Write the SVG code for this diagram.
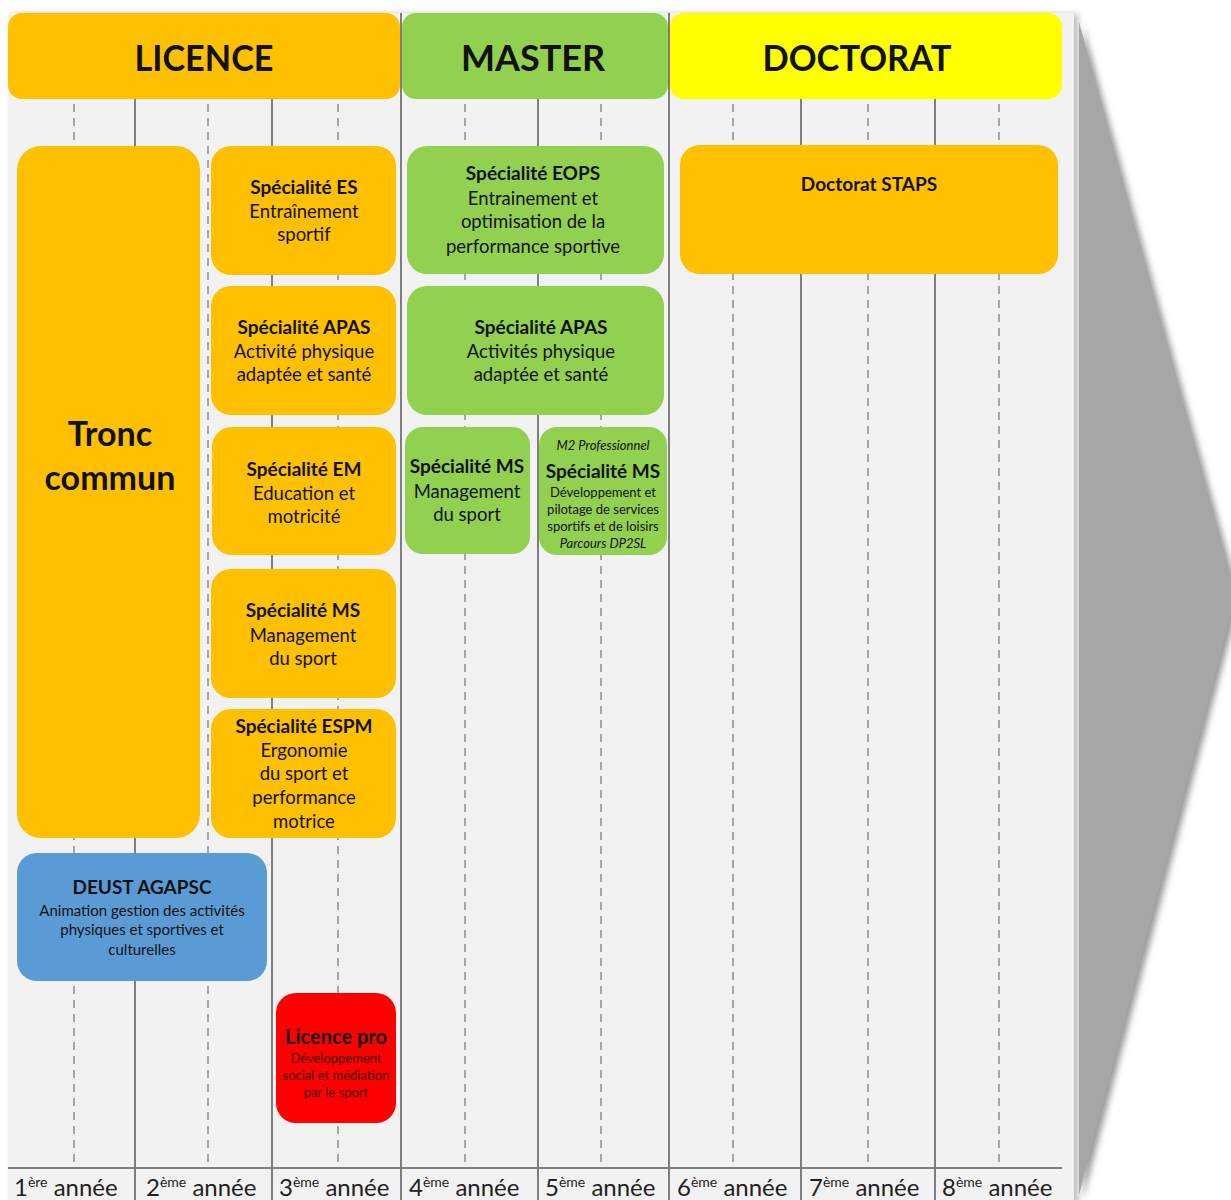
<svg xmlns="http://www.w3.org/2000/svg" width="1231" height="1200" viewBox="0 0 1231 1200">
<defs>
<style>
text{font-family:Lato,"Open Sans","Liberation Sans",sans-serif;fill:#111;text-anchor:middle}
.hd{font-size:36px;font-weight:700}
.t{font-size:19px;font-weight:700}
.s{font-size:18.5px}
.xs{font-size:13px}
.it{font-style:italic}
.yr{font-size:24px;text-anchor:start;fill:#222}
.sup{font-size:14px}
.orange{fill:#FFC000}
.green{fill:#92D050}
.sol{stroke:#7f7f7f;stroke-width:2}
.dash{stroke:#a6a6a6;stroke-width:2;stroke-dasharray:8 6}
</style>
<filter id="sh" x="-20%" y="-5%" width="140%" height="110%">
<feGaussianBlur stdDeviation="3"/>
</filter>
</defs>
<rect width="1231" height="1200" fill="#fff"/>
<!-- background panel -->
<rect x="12" y="14" width="1066" height="1190" fill="#bbb" filter="url(#sh)"/>
<rect x="8" y="13" width="1066" height="1190" fill="#f2f2f2"/>
<!-- grey arrow -->
<polygon points="1083,26 1240,599 1083,1199" fill="#999" filter="url(#sh)"/>
<polygon points="1079,22 1236,595 1079,1195" fill="#a6a6a6"/>
<g id="connectors">
<g class="dash">
<line x1="74" y1="104" x2="74" y2="1165"/>
<line x1="208" y1="104" x2="208" y2="1165"/>
<line x1="338" y1="104" x2="338" y2="1165"/>
<line x1="465" y1="104" x2="465" y2="1165"/>
<line x1="601" y1="104" x2="601" y2="1165"/>
<line x1="733" y1="104" x2="733" y2="1165"/>
<line x1="868" y1="104" x2="868" y2="1165"/>
<line x1="999" y1="104" x2="999" y2="1165"/>
</g>
<g class="sol">
<line x1="135" y1="98" x2="135" y2="1200"/>
<line x1="272" y1="98" x2="272" y2="1200"/>
<line x1="401" y1="13" x2="401" y2="1200"/>
<line x1="538" y1="98" x2="538" y2="1200"/>
<line x1="669" y1="13" x2="669" y2="1200"/>
<line x1="801" y1="98" x2="801" y2="1200"/>
<line x1="935" y1="98" x2="935" y2="1200"/>
<line x1="8" y1="1168" x2="1062" y2="1168"/>
</g>
</g>
<g id="licence-header"><rect x="8" y="13" width="392" height="86" rx="14" class="orange"/><text x="204" y="71" class="hd" textLength="139" lengthAdjust="spacingAndGlyphs">LICENCE</text></g>
<g id="master-header"><rect x="402" y="13" width="266" height="86" rx="14" class="green"/><text x="533" y="71" class="hd">MASTER</text></g>
<g id="doctorat-header"><rect x="670" y="13" width="392" height="86" rx="14" fill="#FFFF00"/><text x="857" y="71" class="hd" textLength="189" lengthAdjust="spacingAndGlyphs">DOCTORAT</text></g>

<g id="tronc"><rect x="17" y="146" width="183" height="692" rx="24" class="orange"/><text x="110" y="446" style="font-size:34px;font-weight:700">Tronc</text><text x="110" y="490" style="font-size:34px;font-weight:700">commun</text></g>

<g id="es"><rect x="211" y="146" width="185" height="129" rx="20" class="orange"/><text x="304" y="194" class="t">Spécialité ES</text><text x="304" y="218" class="s">Entraînement</text><text x="304" y="241" class="s">sportif</text></g>
<g id="apas"><rect x="211" y="286" width="185" height="129" rx="20" class="orange"/><text x="304" y="334" class="t">Spécialité APAS</text><text x="304" y="358" class="s">Activité physique</text><text x="304" y="381" class="s">adaptée et santé</text></g>
<g id="em"><rect x="212" y="427" width="184" height="128" rx="20" class="orange"/><text x="304" y="476" class="t">Spécialité EM</text><text x="304" y="500" class="s">Education et</text><text x="304" y="523" class="s">motricité</text></g>
<g id="ms"><rect x="211" y="569" width="185" height="129" rx="20" class="orange"/><text x="303" y="617" class="t">Spécialité MS</text><text x="303" y="642" class="s">Management</text><text x="303" y="665" class="s">du sport</text></g>
<g id="espm"><rect x="211" y="709" width="185" height="129" rx="20" class="orange"/><text x="304" y="733" class="t">Spécialité ESPM</text><text x="304" y="757" class="s">Ergonomie</text><text x="304" y="780" class="s">du sport et</text><text x="304" y="804" class="s">performance</text><text x="304" y="828" class="s">motrice</text></g>

<g id="deust"><rect x="17" y="853" width="250" height="128" rx="20" fill="#5B9BD5"/><text x="142" y="894" class="t">DEUST AGAPSC</text><text x="142" y="916" style="font-size:15px">Animation gestion des activités</text><text x="142" y="935" style="font-size:15px">physiques et sportives et</text><text x="142" y="955" style="font-size:15px">culturelles</text></g>

<g id="licencepro"><rect x="276" y="993" width="120" height="130" rx="20" fill="#FF0000"/><text x="336" y="1044" style="font-size:20px;font-weight:700">Licence pro</text><text x="336" y="1063" class="xs" style="fill:#400000">Développement</text><text x="336" y="1080" class="xs" style="fill:#400000">social et médiation</text><text x="336" y="1097" class="xs" style="fill:#400000">par le sport</text></g>

<g id="eops"><rect x="407" y="146" width="257" height="128" rx="20" class="green"/><text x="533" y="180" class="t">Spécialité EOPS</text><text x="533" y="205" class="s">Entrainement et</text><text x="533" y="228" class="s">optimisation de la</text><text x="533" y="253" class="s">performance sportive</text></g>
<g id="apas-m"><rect x="407" y="286" width="257" height="129" rx="20" class="green"/><text x="541" y="334" class="t">Spécialité APAS</text><text x="541" y="358" class="s">Activités physique</text><text x="541" y="381" class="s">adaptée et santé</text></g>
<g id="ms-m"><rect x="405" y="427" width="125" height="127" rx="18" class="green"/><text x="467" y="473" class="t">Spécialité MS</text><text x="467" y="498" class="s">Management</text><text x="467" y="521" class="s">du sport</text></g>
<g id="ms-m2"><rect x="539" y="427" width="128" height="128" rx="18" class="green"/><text x="603" y="450" class="xs it">M2 Professionnel</text><text x="603" y="478" class="t">Spécialité MS</text><text x="603" y="497" class="xs">Développement et</text><text x="603" y="514" class="xs">pilotage de services</text><text x="603" y="531" class="xs">sportifs et de loisirs</text><text x="603" y="548" class="xs it">Parcours DP2SL</text></g>

<g id="doctorat-staps"><rect x="680" y="145" width="378" height="129" rx="20" class="orange"/><text x="869" y="191" style="font-size:19px;font-weight:700">Doctorat STAPS</text></g>

<g id="years">
<text x="14" y="1196" class="yr">1<tspan class="sup" dy="-9">ère</tspan><tspan dy="9"> année</tspan></text>
<text x="146" y="1196" class="yr">2<tspan class="sup" dy="-9">ème</tspan><tspan dy="9"> année</tspan></text>
<text x="279" y="1196" class="yr">3<tspan class="sup" dy="-9">ème</tspan><tspan dy="9"> année</tspan></text>
<text x="409" y="1196" class="yr">4<tspan class="sup" dy="-9">ème</tspan><tspan dy="9"> année</tspan></text>
<text x="545" y="1196" class="yr">5<tspan class="sup" dy="-9">ème</tspan><tspan dy="9"> année</tspan></text>
<text x="677" y="1196" class="yr">6<tspan class="sup" dy="-9">ème</tspan><tspan dy="9"> année</tspan></text>
<text x="809" y="1196" class="yr">7<tspan class="sup" dy="-9">ème</tspan><tspan dy="9"> année</tspan></text>
<text x="942" y="1196" class="yr">8<tspan class="sup" dy="-9">ème</tspan><tspan dy="9"> année</tspan></text>
</g>
</svg>
